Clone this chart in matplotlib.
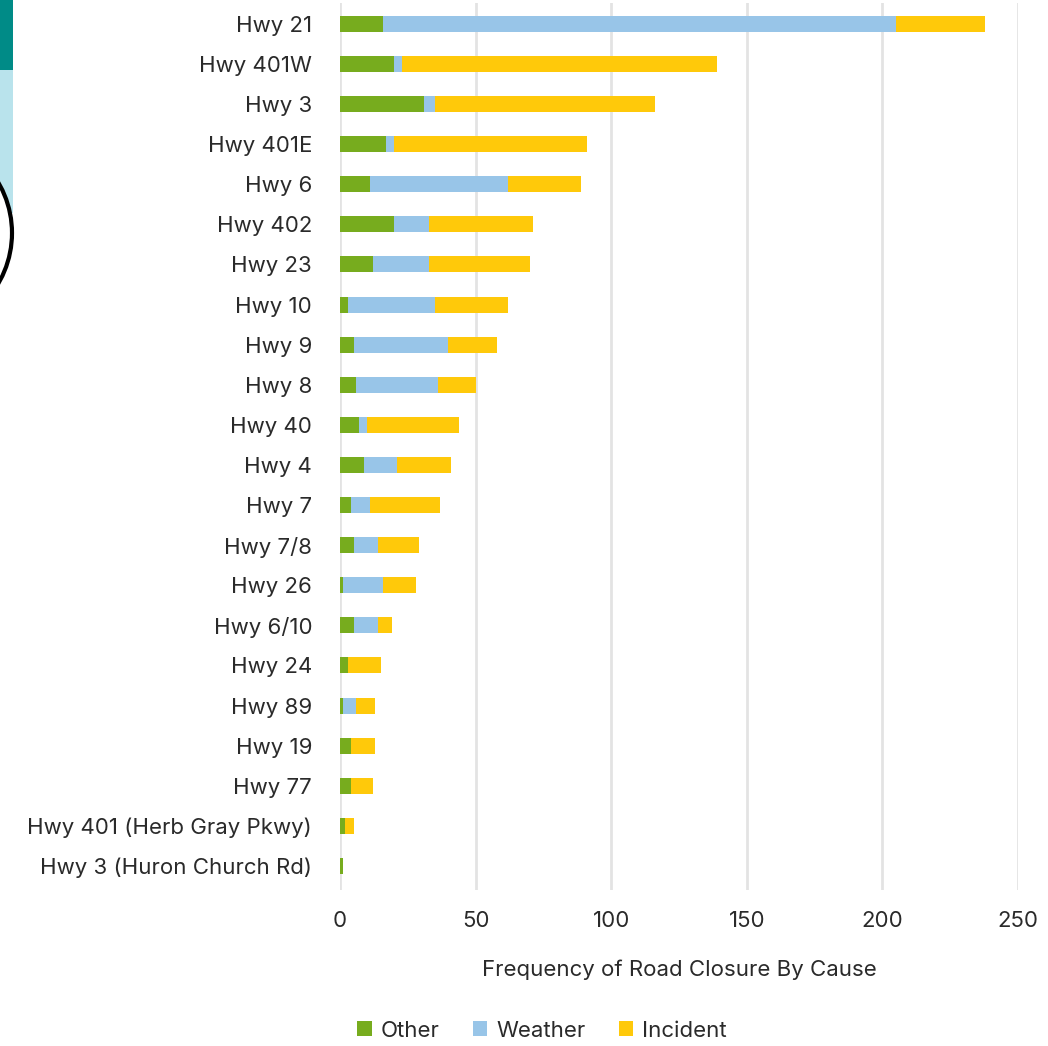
import matplotlib
matplotlib.use('Agg')
import matplotlib.pyplot as plt
from matplotlib.patches import Rectangle, Circle

plt.rcParams['font.family'] = ['Inter', 'Liberation Sans', 'DejaVu Sans']

# highways, top to bottom
roads = ['Hwy 21', 'Hwy 401W', 'Hwy 3', 'Hwy 401E', 'Hwy 6', 'Hwy 402', 'Hwy 23',
         'Hwy 10', 'Hwy 9', 'Hwy 8', 'Hwy 40', 'Hwy 4', 'Hwy 7', 'Hwy 7/8', 'Hwy 26',
         'Hwy 6/10', 'Hwy 24', 'Hwy 89', 'Hwy 19', 'Hwy 77',
         'Hwy 401 (Herb Gray Pkwy)', 'Hwy 3 (Huron Church Rd)']
other    = [16, 20, 31, 17, 11, 20, 12, 3, 5, 6, 7, 9, 4, 5, 1, 5, 3, 1, 4, 4, 2, 1]
weather  = [189, 3, 4, 3, 51, 13, 21, 32, 35, 30, 3, 12, 7, 9, 15, 9, 0, 5, 0, 0, 0, 0]
incident = [33, 116, 81, 71, 27, 38, 37, 27, 18, 14, 34, 20, 26, 15, 12, 5, 12, 7, 9, 8, 3, 0]
xticks = [0, 50, 100, 150, 200, 250]

c_other = '#77AC1E'
c_weather = '#98C5E8'
c_incident = '#FFC90A'
txt = '#2a2a2a'
fs = 16

fig = plt.figure(figsize=(10.48, 10.46), dpi=100)

# bits of the surrounding page on the left edge
bg = fig.add_axes([0, 0, 1, 1], zorder=-1)
bg.set_xlim(0, 1048)
bg.set_ylim(1046, 0)
bg.axis('off')
bg.add_patch(Rectangle((0, 0), 13, 70, facecolor='#008B87', edgecolor='none'))
bg.add_patch(Rectangle((0, 70), 13, 143, facecolor='#B9E3EC', edgecolor='none'))
bg.add_patch(Circle((-88, 233), 100, facecolor='white', edgecolor='black', lw=3))

ax = fig.add_axes([340/1048, 1 - 890/1046, 678/1048, 887/1046])
y = list(range(len(roads)))
left2 = [o + w for o, w in zip(other, weather)]
ax.barh(y, other, height=0.4, color=c_other, label='Other', zorder=3)
ax.barh(y, weather, left=other, height=0.4, color=c_weather, label='Weather', zorder=3)
ax.barh(y, incident, left=left2, height=0.4, color=c_incident, label='Incident', zorder=3)

ax.set_xlim(0, 250)
ax.set_ylim(len(roads) - 0.4, -0.52)
ax.set_yticks(y)
ax.set_yticklabels(roads)
ax.set_xticks(xticks)
ax.grid(axis='x', color='#E3E3E3', lw=2, zorder=0)
for s in ax.spines.values():
    s.set_visible(False)
ax.tick_params(axis='y', length=0, pad=20, labelsize=fs, labelcolor=txt)
ax.tick_params(axis='x', length=0, pad=15, labelsize=fs, labelcolor=txt)
ax.set_xlabel('Frequency of Road Closure By Cause', fontsize=fs, color=txt, labelpad=21)

fig.legend(loc='lower center', bbox_to_anchor=(0.517, -0.014), ncol=3, frameon=False,
           fontsize=fs, handlelength=0.65, handleheight=0.65, handletextpad=0.4,
           columnspacing=1.5, labelcolor=txt)

plt.savefig('out.png')
